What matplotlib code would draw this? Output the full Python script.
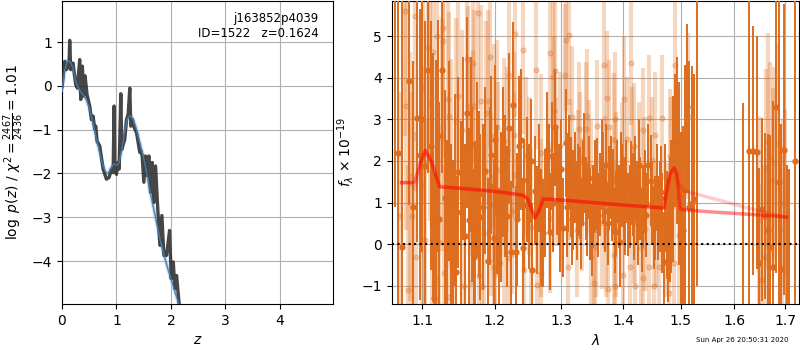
import matplotlib
matplotlib.use('Agg')
import matplotlib.pyplot as plt
from matplotlib.ticker import NullLocator

# p(z) panel
z_chi2 = [0.0, 0.049, 0.080, 0.110, 0.129, 0.141, 0.160, 0.202, 0.252, 0.282, 0.325, 0.344,
          0.374, 0.399, 0.423, 0.460, 0.509, 0.540, 0.571, 0.601, 0.620, 0.644, 0.693, 0.755,
          0.816, 0.865, 0.908, 0.939, 0.957, 0.969, 1.000, 1.031, 1.049, 1.080, 1.098, 1.153,
          1.184, 1.215, 1.245, 1.264, 1.294, 1.325, 1.368, 1.429, 1.448, 1.472, 1.503, 1.534,
          1.564, 1.595, 1.626, 1.656, 1.687, 1.718, 1.755, 1.798, 1.834, 1.871, 1.920, 1.975,
          2.006, 2.043, 2.074, 2.104, 2.147, 2.200]
logp_chi2 = [-0.02, 0.56, 0.37, 0.48, 0.41, 1.04, 0.37, 0.52, 0.03, -0.05, 0.60, -0.31,
             0.45, -0.23, 0.23, -0.20, -0.46, -0.77, -0.69, -0.99, -0.92, -1.26, -1.37, -1.90,
             -2.13, -2.09, -1.90, -1.98, -0.46, -1.83, -2.02, -1.75, -1.90, -0.18, -1.45, -1.22,
             -0.77, -0.65, -0.05, -0.92, -0.77, -0.95, -1.07, -1.52, -1.48, -1.60, -2.20, -1.60,
             -2.05, -1.60, -2.43, -1.75, -2.66, -1.83, -2.73, -3.64, -2.96, -3.87, -3.87, -3.30,
             -4.40, -4.02, -4.63, -4.33, -4.93, -5.50]

z_smooth = [0.0, 0.05, 0.1, 0.15, 0.2, 0.25, 0.3, 0.35, 0.4, 0.45, 0.5, 0.55, 0.6, 0.65, 0.7,
            0.75, 0.8, 0.85, 0.9, 0.95, 1.0, 1.05, 1.1, 1.15, 1.2, 1.25, 1.3, 1.35, 1.4, 1.45,
            1.5, 1.55, 1.6, 1.65, 1.7, 1.75, 1.8, 1.85, 1.9, 1.95, 2.0, 2.05, 2.1, 2.15, 2.2]
logp_smooth = [-0.1, 0.35, 0.58, 0.55, 0.42, 0.12, -0.05, -0.15, -0.22, -0.32, -0.5, -0.75,
               -1.02, -1.3, -1.55, -1.8, -1.97, -2.0, -1.88, -1.78, -1.82, -1.75, -1.45, -1.05,
               -0.75, -0.68, -0.75, -0.92, -1.15, -1.4, -1.65, -1.95, -2.3, -2.6, -2.9, -3.2,
               -3.5, -3.75, -3.98, -4.2, -4.4, -4.6, -4.8, -5.0, -5.25]

# spectrum panel, main data
wave_dark = [1.0647, 1.0731, 1.0829, 1.0934, 1.0969, 1.1036, 1.1079, 1.1119, 1.1159, 1.1182,
             1.1227, 1.1267, 1.1335, 1.1381, 1.1417, 1.1458, 1.1486, 1.1522, 1.1610, 1.1638,
             1.1680, 1.1722, 1.1750, 1.1793, 1.1859, 1.1950, 1.1988, 1.2036, 1.2065, 1.2114,
             1.2173, 1.2231, 1.2269, 1.2309, 1.2358, 1.2384, 1.2428, 1.2468, 1.2552, 1.2593,
             1.2619, 1.2719, 1.2771, 1.2848, 1.2899, 1.2934, 1.2977, 1.3065, 1.3106, 1.3149,
             1.3185, 1.3239, 1.3292, 1.3360, 1.3408, 1.3453, 1.3480, 1.3534, 1.3561, 1.3642,
             1.3668, 1.3767, 1.3807, 1.3879, 1.3946, 1.3984, 1.4030, 1.4085, 1.4136, 1.4182,
             1.4228, 1.4268, 1.4313, 1.4370, 1.4468, 1.4544, 1.4601, 1.4649, 1.4702, 1.4749,
             1.4808, 1.4856, 1.4897, 1.4938, 1.5045, 1.5107, 1.5198, 1.5241, 1.5290,
             1.6158, 1.6281, 1.6365, 1.6432, 1.6483, 1.6530, 1.6596, 1.6649, 1.6696, 1.6763,
             1.6817, 1.6870, 1.6918, 1.6986, 1.7034, 1.7088, 1.7205,
             1.0690, 1.0880, 1.1000, 1.1145, 1.1205, 1.1300, 1.1360, 1.1440, 1.1545, 1.1580,
             1.1660, 1.1700, 1.1770, 1.1830, 1.1900, 1.1925, 1.2010, 1.2090, 1.2150, 1.2200,
             1.2330, 1.2410, 1.2500, 1.2530, 1.2650, 1.2680, 1.2745, 1.2800, 1.2820, 1.2870,
             1.2955, 1.3000, 1.3030, 1.3085, 1.3125, 1.3165, 1.3210, 1.3265, 1.3315, 1.3335,
             1.3385, 1.3430, 1.3505, 1.3590, 1.3615, 1.3695, 1.3720, 1.3745, 1.3790, 1.3835,
             1.3855, 1.3900, 1.3925, 1.3965, 1.4008, 1.4055, 1.4110, 1.4160, 1.4205, 1.4250,
             1.4290, 1.4340, 1.4395, 1.4420, 1.4495, 1.4520, 1.4572, 1.4625, 1.4675, 1.4725,
             1.4780, 1.4830, 1.4970, 1.5010, 1.5075, 1.5150]
flux_dark = [6.5, -0.06, 3.93, 3.04, 2.15, 1.87, 4.20, 2.37, -1.29, 1.23,
             0.61, 4.20, -0.10, 0.00, -0.38, -0.66, 1.73, 0.77, 3.16, 0.59,
             1.19, 0.37, 1.80, 0.65, 1.77, 2.15, 0.14, 1.07, -0.46, 1.97,
             0.67, -0.19, 3.35, -0.19, 2.35, 2.51, 0.93, 1.55, -0.62, 1.29,
             0.58, 0.26, 2.26, 2.11, 2.81, 1.51, 0.54, 2.43, 1.48, 1.37,
             1.07, 0.81, 1.23, 1.95, 0.81, 0.71, 0.34, 1.40, 1.45, 1.91,
             1.59, 1.35, 1.07, 0.75, 0.06, 1.41, 0.75, 0.71, 1.47, 0.63,
             0.99, 1.91, 0.34, 1.27, 1.53, 0.63, 0.63, 1.25, -0.42, 0.47,
             0.60, 1.57, 2.49, 2.49, 0.33, 3.30, 0.99, 1.09, 6.5,
             -2.0, 2.25, 2.25, 2.21, -0.46, 0.84, 0.67, 0.34, -0.07, -0.56,
             3.30, 1.50, -0.60, 2.27, -2.2, -2.2, 2.0,
             2.2, 0.9, 3.0, 1.6, 2.6, 1.1, 2.0, 1.3, 2.3, 0.2,
             2.4, -0.3, 1.2, 0.9, -0.4, 1.4, 2.5, 0.9, 1.4, 2.8,
             0.6, -0.1, 0.9, 2.0, 1.6, 0.4, 1.0, 1.6, 0.3, 1.0,
             1.2, 1.8, 0.4, 0.9, 2.0, 0.6, 1.6, 1.3, 0.5, 1.5,
             1.1, 1.6, 0.9, 0.7, 1.2, 0.8, 1.9, 0.5, 1.6, 1.3,
             0.3, 1.5, 0.9, 1.7, 1.1, 1.5, 0.9, 1.2, 1.6, 0.5,
             1.1, 0.9, 0.7, 1.9, 1.0, 0.4, 1.4, 0.9, 0.5, 1.1,
             0.1, 0.9, 1.7, 0.2, 1.3, 0.9]
err_dark = [5.6, 6.0, 3.0, 3.0, 3.5, 3.5, 2.5, 3.0, 3.0, 3.2,
            2.8, 2.5, 2.6, 2.4, 2.4, 2.3, 2.3, 2.2, 2.3, 2.2,
            2.1, 2.1, 2.1, 2.0, 2.0, 1.9, 1.9, 1.8, 1.8, 1.8,
            1.7, 1.7, 2.0, 1.6, 1.7, 1.7, 1.6, 1.5, 1.6, 1.3,
            1.3, 1.3, 1.4, 1.3, 1.4, 1.3, 1.2, 1.3, 1.2, 1.2,
            1.2, 1.2, 1.1, 1.2, 1.1, 1.1, 1.1, 1.1, 1.1, 1.1,
            1.1, 1.0, 1.0, 1.0, 1.1, 1.0, 1.0, 1.0, 1.0, 1.0,
            1.0, 1.1, 1.0, 1.0, 1.1, 1.0, 1.0, 1.1, 1.2, 1.3,
            1.5, 2.0, 1.6, 2.0, 2.5, 2.0, 3.3, 3.0, 7.5,
            5.4, 4.0, 3.0, 2.8, 2.3, 2.2, 2.0, 2.3, 2.7, 4.0,
            4.0, 5.0, 3.5, 3.5, 4.1, 4.0, 6.0,
            4.0, 3.5, 3.2, 3.0, 2.8, 2.6, 2.4, 2.3, 2.2, 2.2,
            2.1, 2.1, 2.0, 2.0, 2.0, 1.9, 1.8, 1.8, 1.7, 1.8,
            1.6, 1.7, 1.5, 1.5, 1.3, 1.4, 1.3, 1.3, 1.4, 1.2,
            1.2, 1.2, 1.2, 1.2, 1.1, 1.1, 1.1, 1.1, 1.1, 1.0,
            1.0, 1.0, 1.0, 1.0, 1.0, 1.0, 1.0, 1.0, 1.0, 1.0,
            1.0, 1.0, 1.0, 1.0, 1.0, 1.0, 1.0, 1.0, 1.0, 1.0,
            1.0, 1.0, 1.0, 1.0, 1.0, 1.0, 1.0, 1.1, 1.2, 1.3,
            1.5, 1.6, 2.2, 2.5, 3.0, 3.5]

# spectrum panel, second (faint) data set
wave_light = [1.0772, 1.0904, 1.1201, 1.1279, 1.1271, 1.1140, 1.1075, 1.1014, 1.0785, 1.1098,
              1.1340, 1.1480, 1.1363, 1.1456, 1.1536, 1.1610, 1.1689, 1.1619, 1.1711, 1.1805,
              1.1907, 1.1875, 1.1767, 1.1930, 1.1982, 1.1262, 1.1386, 1.1697, 1.1642, 1.0992,
              1.0838, 1.0860, 1.1131, 1.1223, 1.1038, 1.1285, 1.1177, 1.1345, 1.1432, 1.1564,
              1.1666, 1.1812, 1.1781, 1.1851, 1.1944, 1.1990, 1.0815, 1.0917, 1.0706,
              1.2295, 1.2418, 1.2605, 1.2827, 1.2901, 1.2861, 1.3070, 1.3120, 1.3054, 1.2211,
              1.3164, 1.3410, 1.3382, 1.3272, 1.2886, 1.2276, 1.2030, 1.2137, 1.2177, 1.2040,
              1.2459, 1.2680, 1.2975, 1.3136, 1.2285, 1.2498, 1.2908, 1.3265, 1.3464, 1.3436,
              1.2688, 1.2820, 1.2532, 1.2246, 1.2130, 1.2187, 1.2433, 1.2010, 1.2690, 1.2616,
              1.3108, 1.3246, 1.3470, 1.3328, 1.3300,
              1.3682, 1.4126, 1.3738, 1.4010, 1.3562, 1.3764, 1.3857, 1.4069, 1.4328, 1.4540,
              1.4660, 1.4442, 1.3840, 1.4183, 1.4155, 1.4500, 1.3984, 1.4269, 1.4816, 1.4833,
              1.4890, 1.5123, 1.3693, 1.3874, 1.4355, 1.3655, 1.3880, 1.3710, 1.4190, 1.3546,
              1.4362, 1.4557, 1.4759, 1.4976, 1.3529, 1.3850, 1.4298, 1.3990, 1.4120, 1.4448,
              1.4614, 1.4335, 1.3518, 1.3748, 1.3868, 1.4195, 1.4787, 1.4528, 1.4873,
              1.6651, 1.6837, 1.6705, 1.6626, 1.6770, 1.6758, 1.7000, 1.6955, 1.6473, 1.6935,
              1.6587, 1.6508]
flux_light = [5.60, 5.48, 5.00, 5.20, 4.88, 4.63, 4.72, 3.76, 3.33, 3.36,
              3.48, 3.57, 3.09, 2.95, 2.74, 4.46, 4.36, 3.33, 3.32, 3.44,
              3.44, 3.16, 5.55, 4.50, 2.61, 2.63, 1.95, 2.27, 2.11, 1.39,
              1.63, 0.67, 0.49, 0.06, 0.10, -0.70, -0.86, -1.26, -0.86, -1.00,
              -0.90, -1.00, -0.76, 0.27, 0.95, -0.54, -1.10, -0.30, 0.67,
              5.06, 4.66, 4.20, 4.59, 4.16, 4.02, 4.90, 5.04, 4.08, 4.08,
              3.06, 3.09, 2.77, 2.77, 3.20, 2.62, 2.81, 2.47, 2.27, 1.79,
              2.11, 2.19, 2.35, 1.79, 1.67, 1.63, 1.75, 1.63, 1.39, 1.87,
              0.63, 0.63, 0.42, 0.79, 0.10, -0.34, -0.62, -0.72, -0.70, -0.98,
              -0.56, 0.34, -0.30, 0.95, 2.07,
              4.32, 4.36, 3.52, 3.50, 2.83, 2.82, 3.02, 2.53, 2.74, 2.63,
              3.04, 3.04, 2.51, 2.37, 2.29, 2.03, 1.91, 1.91, 2.13, 1.95,
              4.32, 3.09, 1.47, 1.57, 1.55, 0.51, 0.34, 0.34, 0.54, 0.34,
              0.37, 0.47, 0.34, 0.22, -0.06, -0.26, -0.10, -0.74, -0.54, -0.54,
              -0.54, -0.82, -0.94, -1.08, -1.00, -1.00, -1.17, -1.00, -0.46,
              2.49, 2.41, 2.09, 1.81, 1.95, 1.55, 1.24, 0.99, 0.59, 0.36,
              -0.30, -0.86]
err_light = [3.0, 3.0, 2.8, 2.8, 2.8, 2.8, 2.8, 2.8, 3.0, 2.8,
             2.5, 2.5, 2.5, 2.5, 2.4, 2.4, 2.4, 2.4, 2.3, 2.3,
             2.2, 2.2, 2.3, 2.2, 2.2, 2.8, 2.5, 2.4, 2.4, 2.9,
             3.0, 3.0, 2.8, 2.8, 2.9, 2.6, 2.7, 2.5, 2.5, 2.4,
             2.4, 2.3, 2.3, 2.2, 2.2, 2.2, 3.0, 3.0, 3.0,
             2.0, 2.0, 1.9, 1.8, 1.8, 1.8, 1.7, 1.7, 1.7, 2.0,
             1.7, 1.6, 1.6, 1.6, 1.8, 2.0, 2.1, 2.0, 2.0, 2.1,
             1.9, 1.9, 1.8, 1.7, 2.0, 1.9, 1.8, 1.6, 1.6, 1.6,
             1.9, 1.8, 1.9, 2.0, 2.0, 2.0, 1.9, 2.1, 1.9, 1.9,
             1.7, 1.6, 1.6, 1.6, 1.6,
             1.6, 1.5, 1.6, 1.5, 1.6, 1.6, 1.6, 1.5, 1.5, 1.5,
             1.5, 1.5, 1.6, 1.5, 1.5, 1.5, 1.5, 1.5, 1.6, 1.6,
             1.8, 2.0, 1.6, 1.6, 1.5, 1.6, 1.6, 1.6, 1.5, 1.6,
             1.5, 1.5, 1.6, 1.8, 1.6, 1.6, 1.5, 1.5, 1.5, 1.5,
             1.5, 1.5, 1.6, 1.6, 1.6, 1.5, 1.6, 1.5, 1.7,
             2.6, 2.4, 2.3, 2.4, 2.3, 2.2, 2.0, 2.0, 2.5, 2.0,
             2.2, 2.3]

# best-fit models
wave_model = [1.073, 1.085, 1.090, 1.0975, 1.104, 1.112, 1.123, 1.160, 1.200, 1.240, 1.248,
              1.255, 1.259, 1.264, 1.272, 1.300, 1.350, 1.400, 1.450, 1.470, 1.474, 1.481,
              1.4883, 1.493, 1.499, 1.505, 1.550, 1.600, 1.650, 1.703]
flux_model = [1.48, 1.48, 1.50, 1.95, 2.25, 2.0, 1.38, 1.33, 1.27, 1.18, 1.1,
              0.8, 0.63, 0.75, 1.09, 1.06, 1.0, 0.94, 0.89, 0.87, 1.2, 1.7,
              1.83, 1.7, 0.84, 0.83, 0.78, 0.74, 0.70, 0.65]
wave_model2 = [1.073, 1.085, 1.091, 1.0975, 1.104, 1.112, 1.123, 1.160, 1.200, 1.240, 1.248,
               1.255, 1.259, 1.264, 1.272, 1.300, 1.350, 1.400, 1.450, 1.470, 1.474, 1.481,
               1.4883, 1.496, 1.507, 1.663, 1.703]
flux_model2 = [1.48, 1.48, 1.32, 1.95, 2.25, 2.0, 1.38, 1.33, 1.27, 1.18, 1.1,
               0.8, 0.63, 0.75, 1.09, 1.06, 1.0, 0.94, 0.89, 0.87, 1.2, 1.7,
               1.83, 1.45, 1.28, 0.75, 0.65]

orange = '#de6c1c'

fig = plt.figure(figsize=(8, 3.5), dpi=100)
ax1 = fig.add_axes([0.0775, 0.1314, 0.339, 0.866])
ax2 = fig.add_axes([0.4896, 0.1314, 0.5095, 0.866])

# left: p(z)
ax1.plot(z_smooth, logp_smooth, color='#a9cbe8', lw=2.8, alpha=0.6, zorder=3)
ax1.plot(z_chi2, logp_chi2, color='0.15', lw=2.4, alpha=0.85, zorder=4)
ax1.plot(z_smooth, logp_smooth, color='#4a7bab', lw=1.1, alpha=0.9, zorder=5)
ax1.set_xlim(0, 4.98)
ax1.set_ylim(-4.98, 1.94)
ax1.set_xticks([0, 1, 2, 3, 4])
ax1.set_yticks([-4, -3, -2, -1, 0, 1])
ax1.grid(True)
ax1.set_xlabel(r'$z$')
ax1.set_ylabel(r'$\log\ p(z)$ / $\chi^2=\frac{2467}{2436}=1.01$')
ax1.text(0.945, 0.965, 'j163852p4039\nID=1522   z=0.1624', transform=ax1.transAxes,
         ha='right', va='top', fontsize=8.5)

# right: spectrum
ax2.errorbar(wave_light, flux_light, yerr=err_light, marker='o', ms=3.5, ls='none',
             color=orange, alpha=0.28, elinewidth=3, zorder=2)
ax2.errorbar(wave_dark, flux_dark, yerr=err_dark, marker='o', ms=3.5, ls='none',
             color=orange, alpha=1.0, elinewidth=1.4, zorder=3)
ax2.plot(wave_model2, flux_model2, color='r', lw=2.5, alpha=0.2, zorder=4)
ax2.plot(wave_model, flux_model, color='r', lw=2.5, alpha=0.45, zorder=5)
ax2.axhline(0, color='k', ls=':', lw=1.5, zorder=6)
ax2.set_xscale('log')
ax2.set_xlim(1.0603, 1.7294)
ax2.set_ylim(-1.44, 5.85)
ax2.set_xticks([1.1, 1.2, 1.3, 1.4, 1.5, 1.6, 1.7])
ax2.set_xticklabels(['1.1', '1.2', '1.3', '1.4', '1.5', '1.6', '1.7'])
ax2.xaxis.set_minor_locator(NullLocator())
ax2.set_yticks([-1, 0, 1, 2, 3, 4, 5])
ax2.grid(True)
ax2.set_xlabel(r'$\lambda$')
ax2.set_ylabel(r'$f_\lambda\, \times 10^{-19}$')

fig.text(0.985, 0.028, 'Sun Apr 26 20:50:31 2020', ha='right', va='center', fontsize=5)

fig.savefig('out.png', dpi=100)
